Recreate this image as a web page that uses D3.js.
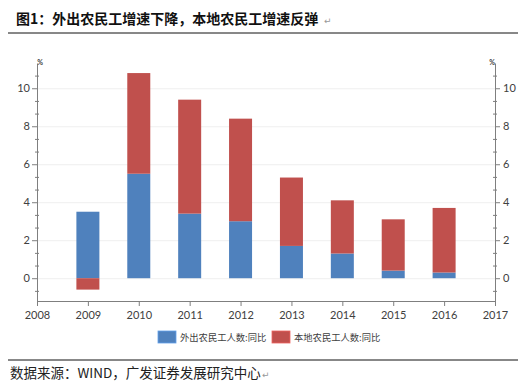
<!DOCTYPE html>
<html>
<head>
<meta charset="utf-8">
<script src="https://cdn.jsdelivr.net/npm/d3@7"></script>
<style>
  body { margin: 0; background: #fff; }
  svg { display: block; }
</style>
</head>
<body>
<svg width="518" height="385"></svg>
<script>
var years = [2009, 2010, 2011, 2012, 2013, 2014, 2015, 2016];
var outMigrant = [3.5, 5.5, 3.4, 3.0, 1.7, 1.3, 0.4, 0.3];   // 外出农民工人数:同比
var localMigrant = [-0.6, 5.3, 6.0, 5.4, 3.6, 2.8, 2.7, 3.4]; // 本地农民工人数:同比
var yTicks = [0, 2, 4, 6, 8, 10];
var seriesNames = ["外出农民工人数:同比", "本地农民工人数:同比"];
var colors = ["#4f81bd", "#c0504d"];

var svg = d3.select("svg");
var plotLeft = 37, plotRight = 495, plotTop = 63, plotBottom = 301;

var xScale = d3.scaleLinear()
               .domain([2008, 2017])
               .range([plotLeft, plotRight]);
var yScale = d3.scaleLinear()
               .domain([-1.2, 11.33])
               .range([plotBottom, plotTop]);

// title + rules
svg.append("text")
   .attr("x", 16).attr("y", 24)
   .style("font-family", "Noto Sans CJK SC").style("font-weight", "bold")
   .style("font-size", "14px").attr("fill", "#111")
   .text("图1：外出农民工增速下降，本地农民工增速反弹");
svg.append("text")
   .attr("x", 324).attr("y", 24)
   .style("font-family", "DejaVu Sans").style("font-size", "9px").attr("fill", "#999")
   .text("↵");
svg.append("line").attr("x1", 8).attr("x2", 518).attr("y1", 33).attr("y2", 33)
   .attr("stroke", "#111").attr("stroke-width", 1);
svg.append("line").attr("x1", 8).attr("x2", 518).attr("y1", 360).attr("y2", 360)
   .attr("stroke", "#111").attr("stroke-width", 1);
svg.append("text")
   .attr("x", 10).attr("y", 378)
   .style("font-family", "Noto Sans CJK SC").style("font-size", "13.5px").attr("fill", "#222")
   .text("数据来源：WIND，广发证券发展研究中心");
svg.append("text")
   .attr("x", 262).attr("y", 378)
   .style("font-family", "DejaVu Sans").style("font-size", "9px").attr("fill", "#999")
   .text("↵");

// grid
svg.append("g").selectAll("line")
   .data(yTicks)
   .enter().append("line")
   .attr("x1", plotLeft).attr("x2", plotRight)
   .attr("y1", function(d) { return yScale(d) + 0.5; })
   .attr("y2", function(d) { return yScale(d) + 0.5; })
   .attr("stroke", "#efefef");

// stacked bars: blue from 0, red stacked on blue (or below 0 when negative)
var barW = 23;
var g = svg.append("g");
g.selectAll(".blue")
 .data(years)
 .enter().append("rect")
 .attr("x", function(d) { return xScale(d) - barW / 2; })
 .attr("width", barW)
 .attr("y", function(d, i) { return yScale(Math.max(0, outMigrant[i])); })
 .attr("height", function(d, i) { return Math.abs(yScale(0) - yScale(outMigrant[i])); })
 .attr("fill", colors[0]);
g.selectAll(".red")
 .data(years)
 .enter().append("rect")
 .attr("x", function(d) { return xScale(d) - barW / 2; })
 .attr("width", barW)
 .attr("y", function(d, i) {
   var v = localMigrant[i];
   return v >= 0 ? yScale(outMigrant[i] + v) : yScale(0);
 })
 .attr("height", function(d, i) { return Math.abs(yScale(0) - yScale(localMigrant[i])); })
 .attr("fill", colors[1]);

// axes
var axisColor = "#7f7f7f";
var font = "Lato, 'Open Sans', sans-serif";
var minor = d3.range(-2, 18).map(function(k) { return k * 2 / 3; })
              .filter(function(v) { return v > -1.2 && v < 11.33 && Math.abs(v - Math.round(v / 2) * 2) > 0.01; });

function styleAxis(sel) {
  sel.selectAll("path, line").attr("stroke", axisColor);
  sel.selectAll("text").style("font-family", font).style("font-size", "11px").attr("fill", "#404040");
}

var yLeft = d3.axisLeft(yScale).tickValues(yTicks).tickSize(5).tickSizeOuter(0);
svg.append("g").attr("transform", "translate(" + plotLeft + ",0)").call(yLeft).call(styleAxis)
   .selectAll("text").attr("dx", "1");
var yRight = d3.axisRight(yScale).tickValues(yTicks).tickSize(5).tickSizeOuter(0);
svg.append("g").attr("transform", "translate(" + plotRight + ",0)").call(yRight).call(styleAxis);

[plotLeft, plotRight].forEach(function(x0) {
  svg.append("g").selectAll("line")
     .data(minor)
     .enter().append("line")
     .attr("x1", x0 - 2).attr("x2", x0 + 2)
     .attr("y1", function(d) { return yScale(d) + 0.5; })
     .attr("y2", function(d) { return yScale(d) + 0.5; })
     .attr("stroke", axisColor);
});

var xAxis = d3.axisBottom(xScale).tickValues(d3.range(2008, 2018)).tickFormat(d3.format("d"))
              .tickSize(5).tickSizeOuter(0);
svg.append("g").attr("transform", "translate(0," + plotBottom + ")").call(xAxis).call(styleAxis)
   .selectAll("text").attr("dy", "0.9em");

// % units
[plotLeft + 3, plotRight - 3].forEach(function(x0) {
  svg.append("text").attr("x", x0).attr("y", 65).attr("text-anchor", "middle")
     .style("font-family", font).style("font-size", "7px").style("font-weight", "bold")
     .attr("fill", "#404040").text("%");
});

// legend
var legendX = [158, 272];
seriesNames.forEach(function(name, i) {
  svg.append("rect").attr("x", legendX[i]).attr("y", 331).attr("width", 18).attr("height", 12)
     .attr("fill", colors[i]).attr("stroke", d3.color(colors[i]).brighter(0.6)).attr("stroke-width", 0.8);
  svg.append("text").attr("x", legendX[i] + 22).attr("y", 341)
     .style("font-family", "Noto Sans CJK SC").style("font-size", "9.3px")
     .attr("fill", "#404040").text(name);
});
</script>
</body>
</html>
